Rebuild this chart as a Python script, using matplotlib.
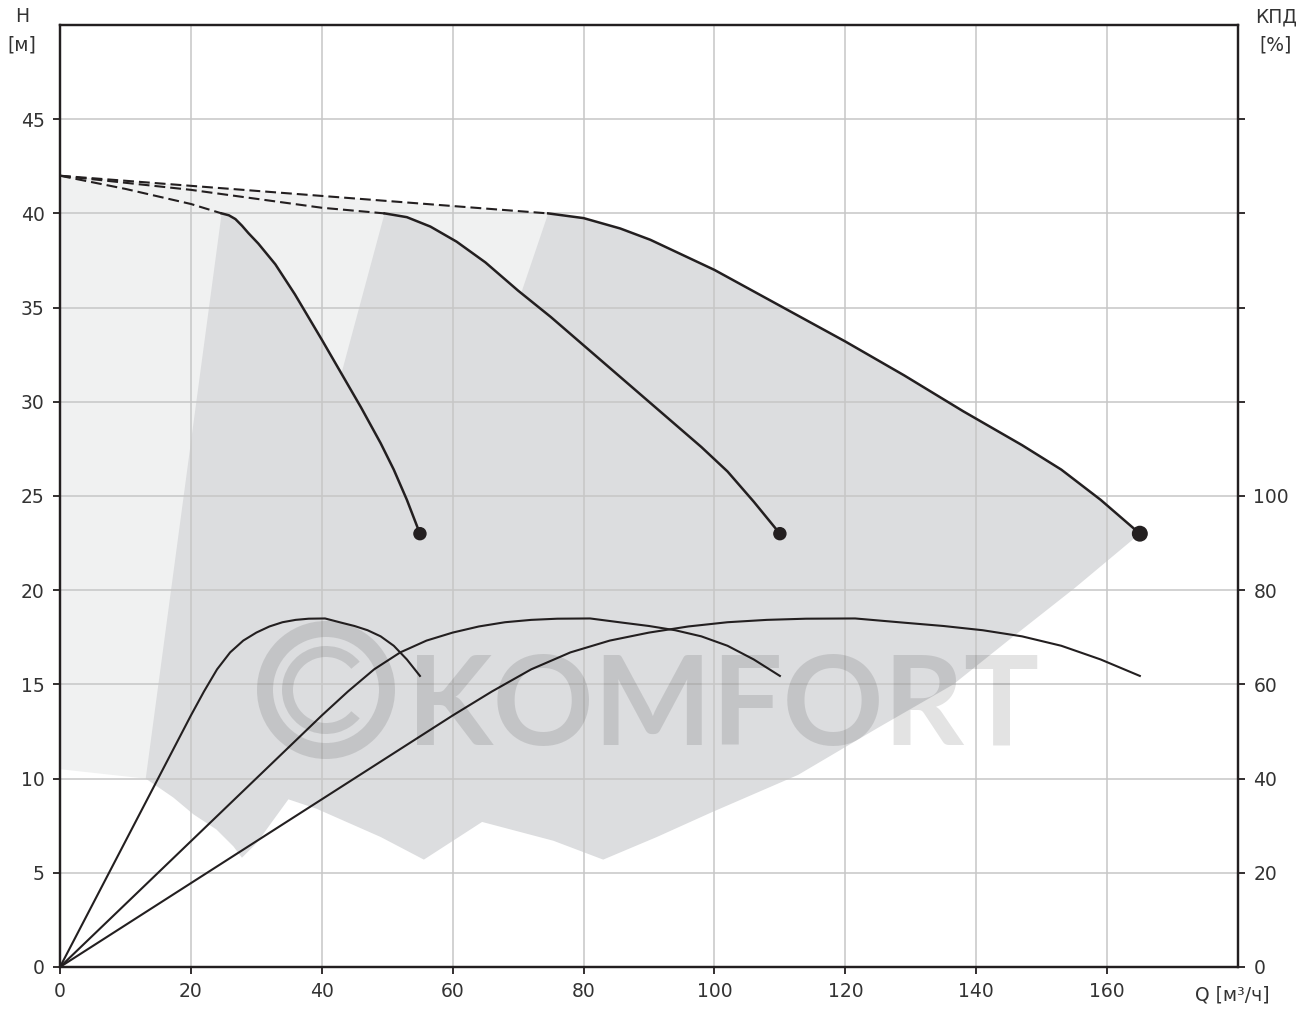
import numpy as np
import matplotlib
matplotlib.use('Agg')
import matplotlib.pyplot as plt
from matplotlib.patches import Polygon, Wedge
from matplotlib.ticker import FixedLocator

# PUMP CURVES (Q in m3/h, H in m) - one, two and three pumps in parallel
q1 = [24.7, 25.8, 26.8, 27.8, 28.8, 30.3, 32.9, 35.9, 40.0, 43.0, 46.0, 49.0, 51.0, 53.0, 55.0]
h1 = [40.0, 39.9, 39.7, 39.35, 38.95, 38.4, 37.3, 35.7, 33.3, 31.5, 29.7, 27.8, 26.4, 24.8, 23.0]
q2 = [49.6, 53.0, 56.6, 60.6, 65.0, 70.0, 75.0, 80.0, 86.0, 92.0, 98.0, 102.0, 106.0, 110.0]
h2 = [40.0, 39.8, 39.3, 38.5, 37.4, 35.9, 34.5, 33.0, 31.2, 29.4, 27.6, 26.3, 24.7, 23.0]
q3 = [74.6, 80.0, 85.6, 90.2, 100.0, 110.0, 120.0, 129.0, 138.0, 147.0, 153.0, 159.0, 165.0]
h3 = [40.0, 39.75, 39.2, 38.6, 37.0, 35.1, 33.2, 31.4, 29.5, 27.7, 26.4, 24.8, 23.0]

# dashed extension from shut-off head to the start of each curve
dq1 = [0, 10, 20, 24.7]
dh1 = [42.0, 41.3, 40.5, 40.0]
dq2 = [0, 20, 40, 49.6]
dh2 = [42.0, 41.25, 40.3, 40.0]
dq3 = [0, 74.6]
dh3 = [42.0, 40.0]

# efficiency curves (%)
eq1 = [0, 20, 22, 24, 26, 28, 30, 32, 34, 36, 38, 40.5, 43, 45, 47, 49, 51, 53, 55]
e1 = [0, 53.4, 58.5, 63.2, 66.8, 69.3, 71.0, 72.3, 73.2, 73.7, 73.95, 74.0, 73.1, 72.4, 71.5, 70.2, 68.2, 65.3, 61.8]
eq2 = [0, 40, 44, 48, 52, 56, 60, 64, 68, 72, 76, 81, 86, 90, 94, 98, 102, 106, 110]
e2 = [0, 53.4, 58.5, 63.2, 66.8, 69.3, 71.0, 72.3, 73.2, 73.7, 73.95, 74.0, 73.1, 72.4, 71.5, 70.2, 68.2, 65.3, 61.8]
eq3 = [0, 60, 66, 72, 78, 84, 90, 96, 102, 108, 114, 121.5, 129, 135, 141, 147, 153, 159, 165]
e3 = [0, 53.4, 58.5, 63.2, 66.8, 69.3, 71.0, 72.3, 73.2, 73.7, 73.95, 74.0, 73.1, 72.4, 71.5, 70.2, 68.2, 65.3, 61.8]

# end points of the curves
end_q = [55, 110, 165]
end_h = [23, 23, 23]

# working area outline
slab_bottom = (13.1, 10.0)
cut1 = (43.0, 31.5)
cut2 = (70.5, 35.8)
low_q = [165, 155, 145.5, 136.5, 125, 112.8, 99.5, 91.2, 83.0, 75.4, 64.5, 55.6, 49.0, 39.2,
         34.9, 32.6, 30.1, 27.8, 26.5, 23.9, 20.4, 17.3, 13.1]
low_h = [23.0, 20.1, 17.5, 15.0, 12.7, 10.2, 8.2, 6.9, 5.7, 6.7, 7.7, 5.7, 6.9, 8.4,
         8.9, 7.8, 6.6, 5.8, 6.4, 7.3, 8.1, 9.0, 10.0]
# light area behind it
light_q = [0, 74.6, 74.6, 13.1, 0]
light_h = [42.0, 40.0, 30.0, 10.0, 10.5]

xticks = [0, 20, 40, 60, 80, 100, 120, 140, 160]
yticks = [0, 5, 10, 15, 20, 25, 30, 35, 40, 45]
eticks = [0, 20, 40, 60, 80, 100, 120, 140, 160, 180]

INK = '#231f20'
TXT = '#333333'
W, H = 1314, 1010

fig = plt.figure(figsize=(W / 100, H / 100), dpi=100)
ax = fig.add_axes([60 / W, 43 / H, 1178 / W, 942 / H])
ax.set_xlim(0, 180)
ax.set_ylim(0, 50)

# shaded areas
ax.add_patch(Polygon(list(zip(light_q, light_h)), closed=True, facecolor='#f0f1f1', edgecolor='none', zorder=0.8))
top = [slab_bottom, (q1[0], h1[0])]
top += [(a, b) for a, b in zip(q1, h1) if a < cut1[0]] + [cut1]
top += [(a, b) for a, b in zip(q2, h2) if a < cut2[0]] + [cut2]
top += list(zip(q3, h3))
outline = top + list(zip(low_q, low_h))
ax.add_patch(Polygon(outline, closed=True, facecolor='#dcdddf', edgecolor='none', zorder=0.9))

ax.grid(True, color='#c6c6c6', linewidth=1.1)
ax.set_xticks(xticks)
ax.set_yticks(yticks)

for dq, dh in [(dq1, dh1), (dq2, dh2), (dq3, dh3)]:
    ax.plot(dq, dh, color=INK, lw=1.5, dashes=(5.2, 2.4), zorder=3)
for q, h in [(q1, h1), (q2, h2), (q3, h3)]:
    ax.plot(q, h, color=INK, lw=1.8, zorder=3, solid_joinstyle='round')
ax.scatter(end_q, end_h, s=[75, 75, 110], color=INK, zorder=4)

for s in ax.spines.values():
    s.set_linewidth(1.6)
    s.set_color(INK)
ax.tick_params(direction='out', length=5, width=1.3, color=INK, labelsize=13.5, labelcolor=TXT, pad=6)

# efficiency on the right axis
ax2 = ax.twinx()
ax2.set_ylim(0, 200)
ax2.yaxis.set_major_locator(FixedLocator(eticks))
ax2.set_yticklabels([str(t) if t <= 100 else '' for t in eticks])
ax2.tick_params(direction='out', length=5, width=1.3, color=INK, labelsize=13.5, labelcolor=TXT, pad=6)
for s in ax2.spines.values():
    s.set_linewidth(1.6)
    s.set_color(INK)
for q, e in [(eq1, e1), (eq2, e2), (eq3, e3)]:
    ax2.plot(q, e, color=INK, lw=1.5, zorder=3, solid_joinstyle='round')

# axis titles
fig.text(22 / W, 1 - 17 / H, 'H', ha='center', va='center', fontsize=13.5, color=TXT)
fig.text(22 / W, 1 - 45 / H, '[м]', ha='center', va='center', fontsize=13.5, color=TXT)
fig.text(1276 / W, 1 - 17 / H, 'КПД', ha='center', va='center', fontsize=13.5, color=TXT)
fig.text(1276 / W, 1 - 45 / H, '[%]', ha='center', va='center', fontsize=13.5, color=TXT)
fig.text(1232 / W, 1 - 995 / H, 'Q [м³/ч]', ha='center', va='center', fontsize=13.5, color=TXT)

# watermark
wm = fig.add_axes([0, 0, 1, 1], zorder=5)
wm.set_xlim(0, W)
wm.set_ylim(H, 0)
wm.axis('off')
wm.patch.set_alpha(0)
wm.add_patch(Wedge((326, 690), 69, 0, 360, width=16, facecolor='black', alpha=0.11, edgecolor='none'))
wm.add_patch(Wedge((326, 690), 44, 40, 320, width=11, facecolor='black', alpha=0.11, edgecolor='none'))
wm.text(407, 745, 'KOMFORT', fontsize=90, fontweight='bold', family='Lato', color='black', alpha=0.11, va='baseline', ha='left')

fig.savefig('out.png', dpi=100)
